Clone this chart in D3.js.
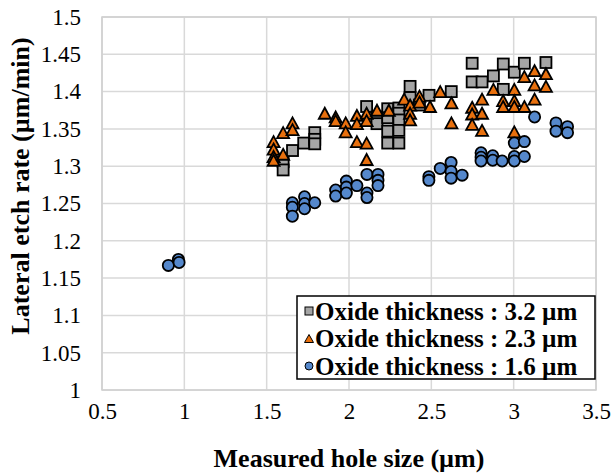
<!DOCTYPE html>
<html>
<head>
<meta charset="utf-8">
<script src="https://cdn.jsdelivr.net/npm/d3@7"></script>
<style>
  body { margin: 0; background: #fff; }
  text { font-family: "Times New Roman", "Liberation Serif", serif; }
</style>
</head>
<body>
<div id="chart"></div>
<script>
// Oxide thickness 3.2 um (squares)
const sqX = [1.600, 1.600, 1.657, 1.725, 1.792, 1.792, 1.792, 2.107, 2.170, 2.170, 2.235, 2.235, 2.235, 2.235,
  2.303, 2.303, 2.303, 2.303, 2.303, 2.371, 2.371, 2.428, 2.486, 2.621, 2.748, 2.748, 2.808, 2.877, 2.937, 2.937,
  3.004, 3.065, 3.196];
const sqY = [1.306, 1.295, 1.321, 1.331, 1.345, 1.336, 1.330, 1.380, 1.366, 1.357, 1.377, 1.365, 1.347, 1.331,
  1.378, 1.371, 1.362, 1.348, 1.331, 1.407, 1.392, 1.382, 1.395, 1.400, 1.438, 1.413, 1.413, 1.421, 1.437, 1.403,
  1.426, 1.438, 1.439];

// Oxide thickness 2.3 um (triangles)
const triX = [1.542, 1.542, 1.542, 1.542, 1.600, 1.600, 1.657, 1.657, 1.853, 1.919, 1.919, 1.980, 1.980,
  2.048, 2.048, 2.048, 2.107, 2.107, 2.107, 2.107, 2.170, 2.242, 2.335, 2.371, 2.371, 2.371, 2.428, 2.428,
  2.492, 2.554, 2.622, 2.622, 2.748, 2.748, 2.748, 2.808, 2.808, 2.808, 2.877, 2.936, 2.936,
  3.004, 3.004, 3.004, 3.004, 3.065, 3.065, 3.127, 3.127, 3.127, 3.196, 3.196];
const triY = [1.333, 1.323, 1.313, 1.308, 1.345, 1.316, 1.358, 1.349, 1.371, 1.366, 1.361, 1.358, 1.346,
  1.368, 1.357, 1.333, 1.371, 1.361, 1.331, 1.309, 1.375, 1.375, 1.390, 1.382, 1.371, 1.362, 1.394, 1.386,
  1.380, 1.400, 1.385, 1.358, 1.379, 1.370, 1.356, 1.390, 1.371, 1.348, 1.403, 1.388, 1.380,
  1.403, 1.388, 1.380, 1.346, 1.380, 1.420, 1.428, 1.409, 1.390, 1.424, 1.407];

// Oxide thickness 1.6 um (circles)
const cirX = [0.903, 0.964, 0.968, 1.656, 1.656, 1.656, 1.730, 1.730, 1.730, 1.792, 1.919, 1.919,
  1.984, 1.984, 1.984, 2.048, 2.109, 2.109, 2.109, 2.176, 2.176, 2.176, 2.485, 2.485, 2.554,
  2.620, 2.620, 2.620, 2.687, 2.802, 2.802, 2.802, 2.873, 2.873, 2.930, 3.004, 3.004, 3.004,
  3.065, 3.065, 3.127, 3.257, 3.257, 3.327, 3.327];
const cirY = [1.167, 1.175, 1.171, 1.251, 1.245, 1.233, 1.259, 1.250, 1.243, 1.251, 1.268, 1.260,
  1.280, 1.272, 1.264, 1.274, 1.289, 1.264, 1.258, 1.289, 1.281, 1.274, 1.286, 1.281, 1.297,
  1.305, 1.293, 1.284, 1.288, 1.318, 1.312, 1.307, 1.314, 1.308, 1.307, 1.331, 1.313, 1.307,
  1.333, 1.313, 1.366, 1.358, 1.347, 1.353, 1.345];

const xTicks = [0.5, 1, 1.5, 2, 2.5, 3, 3.5];
const yTicks = [1, 1.05, 1.1, 1.15, 1.2, 1.25, 1.3, 1.35, 1.4, 1.45, 1.5];
const legendLabels = ["Oxide thickness : 3.2 \u00b5m", "Oxide thickness : 2.3 \u00b5m", "Oxide thickness : 1.6 \u00b5m"];

const width = 613, height = 475;
const margin = { top: 17, right: 17, bottom: 85, left: 102 };

const svg = d3.select("#chart").append("svg")
  .attr("width", width)
  .attr("height", height);

const x = d3.scaleLinear().domain([0.5, 3.5]).range([margin.left, width - margin.right]);
const y = d3.scaleLinear().domain([1, 1.5]).range([height - margin.bottom, margin.top]);

// gridlines
svg.append("g")
  .selectAll("line.gy")
  .data(yTicks)
  .join("line")
  .attr("x1", margin.left).attr("x2", width - margin.right)
  .attr("y1", d => y(d)).attr("y2", d => y(d))
  .attr("stroke", "#d9d9d9").attr("stroke-width", 1.5);

svg.append("g")
  .selectAll("line.gx")
  .data(xTicks)
  .join("line")
  .attr("x1", d => x(d)).attr("x2", d => x(d))
  .attr("y1", margin.top).attr("y2", height - margin.bottom)
  .attr("stroke", "#d9d9d9").attr("stroke-width", 1.5);

svg.append("rect")
  .attr("x", margin.left).attr("y", margin.top)
  .attr("width", width - margin.right - margin.left)
  .attr("height", height - margin.bottom - margin.top)
  .attr("fill", "none").attr("stroke", "#d0d0d0").attr("stroke-width", 1.5);

// axes (labels only)
const yAxis = d3.axisLeft(y).tickValues(yTicks).tickFormat(d => String(d)).tickSize(0).tickPadding(21);
const xAxis = d3.axisBottom(x).tickValues(xTicks).tickFormat(d => String(d)).tickSize(0).tickPadding(13);

const yAxisGroup = svg.append("g")
  .attr("transform", `translate(${margin.left},0)`)
  .call(yAxis);
const xAxisGroup = svg.append("g")
  .attr("transform", `translate(0,${height - margin.bottom})`)
  .call(xAxis);

[yAxisGroup, xAxisGroup].forEach(g => {
  g.select(".domain").remove();
  g.selectAll("text")
    .attr("font-family", "'Times New Roman', 'Liberation Serif', serif")
    .attr("font-size", 23)
    .attr("fill", "#000");
});

// titles
svg.append("text")
  .attr("transform", `translate(29, 186) rotate(-90)`)
  .attr("text-anchor", "middle")
  .attr("font-weight", "bold")
  .attr("font-size", 26)
  .text("Lateral etch rate (\u00b5m/min)");

svg.append("text")
  .attr("x", (margin.left + width - margin.right) / 2)
  .attr("y", 467)
  .attr("text-anchor", "middle")
  .attr("font-weight", "bold")
  .attr("font-size", 26)
  .text("Measured hole size (\u00b5m)");

// markers
const sqSize = 11;
const triPath = (w, h) => `M0,${-h / 2}L${w / 2},${h / 2}L${-w / 2},${h / 2}Z`;

svg.append("g")
  .selectAll("rect")
  .data(d3.zip(sqX, sqY))
  .join("rect")
  .attr("x", d => x(d[0]) - sqSize / 2)
  .attr("y", d => y(d[1]) - sqSize / 2)
  .attr("width", sqSize).attr("height", sqSize)
  .attr("fill", "#a5a5a5")
  .attr("stroke", "#000").attr("stroke-width", 1.8);

svg.append("g")
  .selectAll("path")
  .data(d3.zip(triX, triY))
  .join("path")
  .attr("transform", d => `translate(${x(d[0])},${y(d[1])})`)
  .attr("d", triPath(12, 11))
  .attr("fill", "#e8700e")
  .attr("stroke", "#000").attr("stroke-width", 1.8)
  .attr("stroke-linejoin", "miter");

svg.append("g")
  .selectAll("circle")
  .data(d3.zip(cirX, cirY))
  .join("circle")
  .attr("cx", d => x(d[0]))
  .attr("cy", d => y(d[1]))
  .attr("r", 5.6)
  .attr("fill", "#5588cc")
  .attr("stroke", "#000").attr("stroke-width", 1.8);

// legend
const legend = svg.append("g").attr("transform", "translate(297,296)");
legend.append("rect")
  .attr("width", 298).attr("height", 83)
  .attr("fill", "#fff").attr("stroke", "#000").attr("stroke-width", 1.5);

const rowY = d3.scalePoint().domain(legendLabels).range([15, 70]);

legend.append("rect")
  .attr("x", 8).attr("y", rowY(legendLabels[0]) - 4)
  .attr("width", 8).attr("height", 8)
  .attr("fill", "#a5a5a5").attr("stroke", "#000").attr("stroke-width", 1);
legend.append("path")
  .attr("transform", `translate(12,${rowY(legendLabels[1])})`)
  .attr("d", triPath(9, 8))
  .attr("fill", "#e8700e").attr("stroke", "#000").attr("stroke-width", 1);
legend.append("circle")
  .attr("cx", 12).attr("cy", rowY(legendLabels[2]))
  .attr("r", 4)
  .attr("fill", "#5588cc").attr("stroke", "#000").attr("stroke-width", 1);

legend.selectAll("text")
  .data(legendLabels)
  .join("text")
  .attr("x", 18)
  .attr("y", d => rowY(d))
  .attr("dy", "0.35em")
  .attr("font-weight", "bold")
  .attr("font-size", 25)
  .text(d => d);
</script>
</body>
</html>
